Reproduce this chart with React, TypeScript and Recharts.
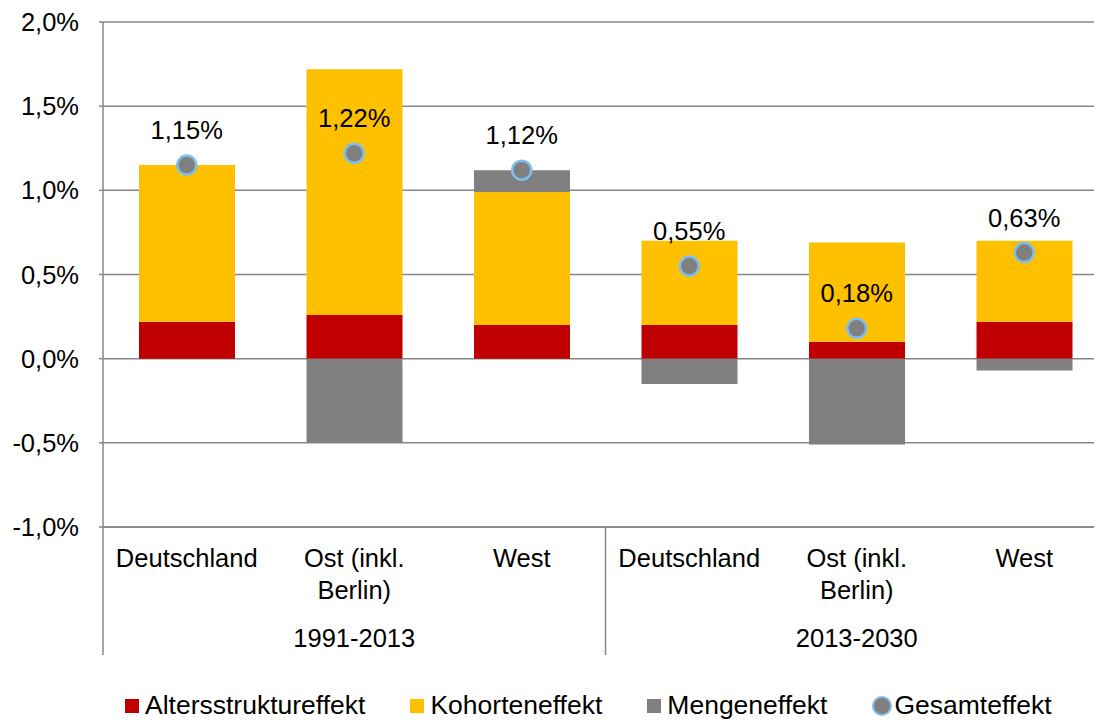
import React from "react";
import {
    ComposedChart,
    Bar,
    Line,
    XAxis,
    YAxis,
    CartesianGrid,
    Legend,
    LabelList,
} from "recharts";

const CATEGORIES = ["Deutschland", "Ost (inkl.\nBerlin)", "West", "Deutschland", "Ost (inkl.\nBerlin)", "West"];
const PERIODS = ["1991-2013", "2013-2030"];
const ALTERSSTRUKTUR = [0.22, 0.26, 0.2, 0.2, 0.1, 0.22];
const KOHORTEN = [0.93, 1.46, 0.79, 0.5, 0.59, 0.48];
const MENGEN = [0, -0.5, 0.13, -0.15, -0.51, -0.07];
const GESAMT = [1.15, 1.22, 1.12, 0.55, 0.18, 0.63];
const Y_TICKS = [-1, -0.5, 0, 0.5, 1, 1.5, 2];

const RED = "#C00000";
const YELLOW = "#FFC000";
const GRAY = "#808080";
const BLUE = "#7EBFEC";
const LINE = "#878787";
const FONT = "'Liberation Sans', Arial, sans-serif";
const FS = 25.5;

const CHART_W = 1120;
const CHART_H = 720;
const Y_W = 103;
const MARGIN_R = 12;
const BAND = (CHART_W - Y_W - MARGIN_R) / CATEGORIES.length;

const data = CATEGORIES.map((_, i) => ({
    idx: i,
    alters: ALTERSSTRUKTUR[i],
    kohorten: KOHORTEN[i],
    mengen: MENGEN[i],
    gesamt: GESAMT[i],
}));

const pct1 = (v: number) => `${v.toFixed(1).replace(".", ",")}%`;
const pct2 = (v: number) => `${Number(v).toFixed(2).replace(".", ",")}%`;

// two-level category axis: region name, then period under the middle bar
function CategoryTick(props: any) {
    const { x, y, payload } = props;
    const i = Number(payload.value);
    const lines = CATEGORIES[i].split("\n");
    const half = BAND / 2;
    return (
        <g>
            {lines.map((ln, k) => (
                <text key={k} x={x} y={y + 40 + k * 32} textAnchor="middle" fontSize={FS} fill="#000">
                    {ln}
                </text>
            ))}
            {i % 3 === 1 && (
                <text x={x} y={y + 120} textAnchor="middle" fontSize={FS} fill="#000">
                    {PERIODS[Math.floor(i / 3)]}
                </text>
            )}
            {i % 3 === 0 && <line x1={x - half} x2={x - half} y1={y} y2={y + 128} stroke={LINE} strokeWidth={1.5} />}
            {i === CATEGORIES.length - 1 && (
                <line x1={x + half} x2={x + half} y1={y} y2={y + 128} stroke={LINE} strokeWidth={1.5} />
            )}
        </g>
    );
}

function LegendContent() {
    const items = [
        { name: "Altersstruktureffekt", color: RED, circle: false },
        { name: "Kohorteneffekt", color: YELLOW, circle: false },
        { name: "Mengeneffekt", color: GRAY, circle: false },
        { name: "Gesamteffekt", color: GRAY, circle: true },
    ];
    return (
        <div style={{ display: "flex", alignItems: "center", paddingLeft: 125, gap: 45, fontSize: 26.5, fontFamily: FONT, color: "#000" }}>
            {items.map((it) => (
                <div key={it.name} style={{ display: "flex", alignItems: "center" }}>
                    {it.circle ? (
                        <div
                            style={{
                                width: 16,
                                height: 16,
                                borderRadius: "50%",
                                background: it.color,
                                border: `2.5px solid ${BLUE}`,
                                marginRight: 2,
                            }}
                        />
                    ) : (
                        <div style={{ width: 14, height: 14, background: it.color, marginRight: 6 }} />
                    )}
                    <span>{it.name}</span>
                </div>
            ))}
        </div>
    );
}

export default function App() {
    return (
        <div
            style={{
                position: "absolute",
                left: 0,
                top: 0,
                width: 1094,
                height: 720,
                overflow: "hidden",
                background: "#fff",
                fontFamily: FONT,
            }}
        >
            <ComposedChart
                width={CHART_W}
                height={CHART_H}
                data={data}
                stackOffset="sign"
                margin={{ top: 22, right: MARGIN_R, left: 0, bottom: 63 }}
            >
                <CartesianGrid vertical={false} stroke={LINE} strokeWidth={1.5} />
                <XAxis
                    dataKey="idx"
                    type="category"
                    axisLine={{ stroke: LINE, strokeWidth: 1.5 }}
                    tickLine={false}
                    tickSize={0}
                    tickMargin={0}
                    interval={0}
                    height={130}
                    tick={<CategoryTick />}
                />
                <YAxis
                    type="number"
                    domain={[-1, 2]}
                    ticks={Y_TICKS}
                    interval={0}
                    width={Y_W}
                    axisLine={{ stroke: LINE, strokeWidth: 1.5 }}
                    tickLine={{ stroke: LINE, strokeWidth: 1.5 }}
                    tickSize={4}
                    tickMargin={20}
                    tickFormatter={pct1}
                    tick={{ fontSize: FS, fill: "#000" }}
                />
                <Bar dataKey="alters" stackId="s" fill={RED} barSize={96} isAnimationActive={false} />
                <Bar dataKey="kohorten" stackId="s" fill={YELLOW} barSize={96} isAnimationActive={false} />
                <Bar dataKey="mengen" stackId="s" fill={GRAY} barSize={96} isAnimationActive={false} />
                <Line
                    dataKey="gesamt"
                    stroke="none"
                    dot={{ r: 9.5, fill: GRAY, stroke: BLUE, strokeWidth: 2.5 }}
                    activeDot={false}
                    isAnimationActive={false}
                >
                    <LabelList dataKey="gesamt" position="top" offset={26} formatter={pct2} fontSize={FS} fill="#000" />
                </Line>
                <Legend
                    layout="horizontal"
                    verticalAlign="middle"
                    align="center"
                    wrapperStyle={{ top: 690, left: 0, width: 1094 }}
                    content={<LegendContent />}
                />
            </ComposedChart>
        </div>
    );
}
